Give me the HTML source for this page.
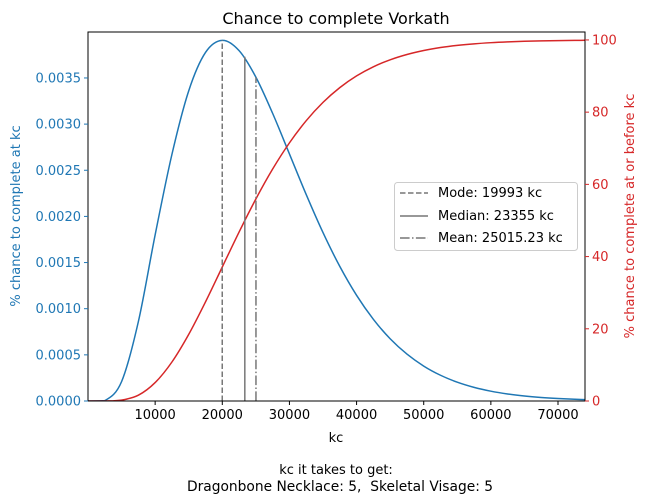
<!DOCTYPE html>
<html><head><meta charset="utf-8"><style>
body{margin:0;background:#fff}
svg{display:block;font-family:"DejaVu Sans","Liberation Sans",sans-serif}
</style></head><body>
<svg id="chart" width="649" height="503">
<rect width="649" height="503" fill="#fff"/>
<text x="336" y="24" font-size="16" text-anchor="middle">Chance to complete Vorkath</text>
<g id="plot"></g>
<text x="336" y="442" font-size="13" text-anchor="middle">kc</text>
<text x="336" y="474" font-size="13" text-anchor="middle">kc it takes to get:</text>
<text x="340" y="491" font-size="13.8" text-anchor="middle">Dragonbone Necklace: 5,&#160; Skeletal Visage: 5</text>
<text transform="translate(20,216) rotate(-90)" font-size="13" fill="#1f77b4" text-anchor="middle">% chance to complete at kc</text>
<text transform="translate(634,216) rotate(-90)" font-size="13" fill="#d62728" text-anchor="middle">% chance to complete at or before kc</text>
<g>
<rect x="394.5" y="182.5" width="183" height="68" rx="3" fill="#fff" fill-opacity="0.8" stroke="#ccc"/>
<line x1="400" y1="193" x2="428" y2="193" stroke="#777" stroke-width="1.5" stroke-dasharray="5.5,2.5"/>
<text x="438" y="197" font-size="13">Mode: 19993 kc</text>
<line x1="400" y1="216" x2="428" y2="216" stroke="#777" stroke-width="1.5"/>
<text x="438" y="220" font-size="13">Median: 23355 kc</text>
<line x1="400" y1="238" x2="428" y2="238" stroke="#777" stroke-width="1.5" stroke-dasharray="9.6,2.4,1.5,2.4"/>
<text x="438" y="242" font-size="13">Mean: 25015.23 kc</text>
</g>
</svg>
<script>
const kc=[0,2500,5000,7500,10000,12500,15000,17500,20000,22500,25000,27500,30000,32500,35000,37500,40000,42500,45000,47500,50000,52500,55000,57500,60000,62500,65000,67500,70000,72500,75000];
const pdfPct=[0,0.000004,0.00021,0.00086,0.0018,0.002672,0.0033606,0.0037762,0.0039073,0.0037962,0.0035093,0.0031164,0.0026771,0.0022364,0.0018245,0.0014583,0.001145,0.0008851,0.0006747,0.0005081,0.0003783,0.0002789,0.0002038,0.0001477,0.0001062,0.0000758,0.0000538,0.0000379,0.0000266,0.0000186,0.0000129];
const cdfPct=[0,0.003,0.25,1.6,5.1,10.8,18.45,27.45,37.116,46.79,55.951,64.248,71.494,77.633,82.701,86.794,90.037,92.563,94.504,95.974,97.075,97.893,98.49,98.925,99.24,99.465,99.626,99.74,99.819,99.875,99.914];
const statNames=['mode','median','mean'];
const statKc=[19993,23355,25015.23];
const statPdf=[0.003907,0.00373,0.003507];
const xTicks=[10000,20000,30000,40000,50000,60000,70000];
const yLTicks=[0,0.0005,0.001,0.0015,0.002,0.0025,0.003,0.0035];
const yRTicks=[0,20,40,60,80,100];

const L=88,R=585,T=32,B=401,XMAX=74020,YLMAX=0.003998,YRMAX=102.2;
const X=v=>L+v/XMAX*(R-L);
const YL=v=>B-v/YLMAX*(B-T);
const YR=v=>B-v/YRMAX*(B-T);
const NS='http://www.w3.org/2000/svg';
const g=document.getElementById('plot');
function mk(t,a,p){const e=document.createElementNS(NS,t);for(const k in a)e.setAttribute(k,a[k]);(p||g).appendChild(e);return e;}
function pathFor(xs,ys){
  const P=xs.map((x,i)=>[x,ys[i]]);let d='M'+P[0][0]+','+P[0][1];
  for(let i=0;i<P.length-1;i++){const p0=P[i-1]||P[i],p1=P[i],p2=P[i+1],p3=P[i+2]||P[i+1];
    const c1=[p1[0]+(p2[0]-p0[0])/6,p1[1]+(p2[1]-p0[1])/6],c2=[p2[0]-(p3[0]-p1[0])/6,p2[1]-(p3[1]-p1[1])/6];
    d+=`C${c1[0]},${Math.min(c1[1],B)} ${c2[0]},${Math.min(c2[1],B)} ${p2[0]},${p2[1]}`;}
  return d;}
const defs=mk('defs',{});const cp=mk('clipPath',{id:'clip'},defs);mk('rect',{x:L,y:T,width:R-L,height:B-T},cp);
const series=mk('g',{'clip-path':'url(#clip)'});
const pdfLine=mk('path',{d:pathFor(kc.map(X),pdfPct.map(YL)),fill:'none',stroke:'#1f77b4','stroke-width':1.5},series);


const cdfLine=mk('path',{d:pathFor(kc.map(X),cdfPct.map(YR)),fill:'none',stroke:'#d62728','stroke-width':1.5},series);


const dashes=['5.5,2.5','none','9.6,2.4,1.5,2.4'];
statKc.forEach((v,i)=>{const l=mk('line',{x1:X(v),x2:X(v),y1:B,y2:YL(statPdf[i]),stroke:'#777','stroke-width':1.5,'stroke-dasharray':dashes[i]});
  
  });
mk('rect',{x:L,y:T,width:R-L,height:B-T,fill:'none',stroke:'#000','stroke-width':1});
xTicks.forEach(v=>{mk('line',{x1:X(v),x2:X(v),y1:B,y2:B+4,stroke:'#000'});
  const t=mk('text',{x:X(v),y:B+18,'font-size':13,'text-anchor':'middle'});t.textContent=v;
  
  });
yLTicks.forEach(v=>{mk('line',{x1:L-4,x2:L,y1:YL(v),y2:YL(v),stroke:'#1f77b4'});
  const t=mk('text',{x:L-7,y:YL(v)+4.5,'font-size':13,'text-anchor':'end',fill:'#1f77b4'});t.textContent=v.toFixed(4);
  
  });
yRTicks.forEach(v=>{mk('line',{x1:R,x2:R+4,y1:YR(v),y2:YR(v),stroke:'#d62728'});
  const t=mk('text',{x:R+7,y:YR(v)+4.5,'font-size':13,fill:'#d62728'});t.textContent=v;
  
  });
</script>
</body></html>
